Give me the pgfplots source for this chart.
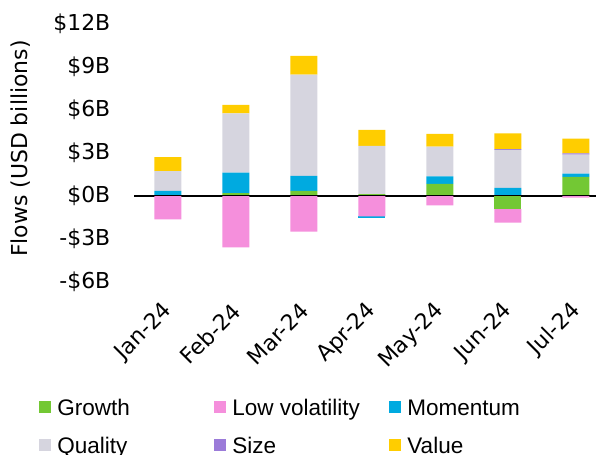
\documentclass[border=0pt]{standalone}
\usepackage{fontspec}
\setmainfont{DejaVu Sans}
\newfontfamily\legfont{Liberation Sans}
\usepackage{pgfplots}
\pgfplotsset{compat=1.18}
\definecolor{cgrowth}{RGB}{115,200,52}
\definecolor{clowvol}{RGB}{245,143,220}
\definecolor{cmom}{RGB}{0,170,224}
\definecolor{cqual}{RGB}{214,213,223}
\definecolor{csize}{RGB}{155,123,217}
\definecolor{cvalue}{RGB}{255,205,0}

\begin{document}
\fontsize{11}{13}\selectfont
\begin{tikzpicture}
\pgfplotsset{
  base/.style={
    width=231.2bp, height=129bp, scale only axis,
    xmin=-0.5, xmax=6.3, ymin=-6, ymax=12,
    ybar stacked, bar width=13.5bp,
  }
}
% positive flows
\begin{axis}[base,
  axis line style={draw=none}, tick style={draw=none},
  ytick={-6,-3,0,3,6,9,12},
  yticklabels={-\$6B,-\$3B,\$0B,\$3B,\$6B,\$9B,\$12B},
  xtick={0,...,6},
  xticklabels={Jan-24,Feb-24,Mar-24,Apr-24,May-24,Jun-24,Jul-24},
  yticklabel style={xshift=-8bp},
  xticklabel style={xshift=3bp, yshift=-10bp, rotate=45, anchor=east},
  ylabel={Flows (USD billions)},
  every axis y label/.style={at={(axis description cs:0,0.517)}, xshift=-56.5bp, rotate=90, anchor=center},
  legend columns=3,
  legend style={at={(axis description cs:0,0)}, anchor=north west,
    xshift=-47.5bp, yshift=-58.5bp, draw=none, fill=none, inner sep=0pt,
    row sep=8bp, font=\legfont\fontsize{11.3}{13}\selectfont,
    nodes={inner sep=0pt, anchor=base west, text height=8bp, text depth=3bp},
    /tikz/every even column/.append style={column sep=0pt}},
  legend image code/.code={\fill[#1] (0bp,1bp) rectangle (6bp,7bp);},
]
\addplot[fill=cgrowth, draw=none] coordinates {(0,0) (1,0.2) (2,0.35) (3,0.13) (4,0.84) (5,0) (6,1.33)};
\addplot[fill=clowvol, draw=none] coordinates {(0,0) (1,0) (2,0) (3,0) (4,0) (5,0) (6,0)};
\addplot[fill=cmom, draw=none] coordinates {(0,0.35) (1,1.43) (2,1.05) (3,0) (4,0.53) (5,0.56) (6,0.23)};
\addplot[fill=cqual, draw=none] coordinates {(0,1.39) (1,4.14) (2,7.07) (3,3.36) (4,2.07) (5,2.65) (6,1.33)};
\addplot[fill=csize, draw=none] coordinates {(0,0) (1,0) (2,0) (3,0) (4,0) (5,0.06) (6,0.08)};
\addplot[fill=cvalue, draw=none] coordinates {(0,0.98) (1,0.58) (2,1.30) (3,1.12) (4,0.89) (5,1.10) (6,1.03)};
\legend{\makebox[81.5bp][l]{\hspace{3bp}Growth},
        \makebox[81.5bp][l]{\hspace{3bp}Low volatility},
        \makebox[81.5bp][l]{\hspace{3bp}Momentum},
        \makebox[81.5bp][l]{\hspace{3bp}Quality},
        \makebox[81.5bp][l]{\hspace{3bp}Size},
        \makebox[81.5bp][l]{\hspace{3bp}Value}}
\coordinate (pa) at (rel axis cs:0,0);
\end{axis}
% negative flows, stacked down from zero
\begin{axis}[base, hide axis]
\addplot[fill=cgrowth, draw=none] coordinates {(0,0) (1,0) (2,0) (3,0) (4,0) (5,-0.91) (6,0)};
\addplot[fill=clowvol, draw=none] coordinates {(0,-1.63) (1,-3.58) (2,-2.49) (3,-1.42) (4,-0.65) (5,-0.95) (6,-0.12)};
\addplot[fill=cmom, draw=none] coordinates {(0,0) (1,0) (2,0) (3,-0.10) (4,0) (5,0) (6,0)};
\draw[black, line width=1bp] (axis cs:-0.5,0) -- (axis cs:6.3,0);
\end{axis}
\pgfresetboundingbox
\useasboundingbox ([shift={(-67bp,-86.5bp)}]pa) rectangle ([shift={(231bp,141bp)}]pa);
\end{tikzpicture}
\end{document}
